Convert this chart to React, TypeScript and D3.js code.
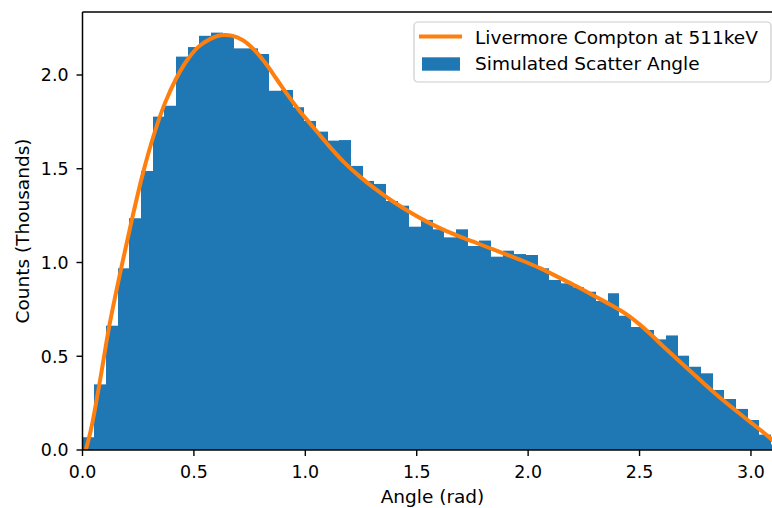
import React from 'react';
import * as d3 from 'd3';

// Histogram counts (thousands), 60 equal bins over [0, π]
const binCounts: number[] = [
  0.068, 0.350, 0.663, 0.969, 1.236, 1.488, 1.778, 1.836, 2.098, 2.149,
  2.209, 2.226, 2.210, 2.142, 2.142, 2.112, 1.916, 1.920, 1.828, 1.755,
  1.698, 1.650, 1.653, 1.515, 1.435, 1.419, 1.328, 1.303, 1.191, 1.227,
  1.177, 1.134, 1.177, 1.088, 1.117, 1.031, 1.063, 1.045, 1.040, 0.969,
  0.907, 0.889, 0.868, 0.844, 0.795, 0.836, 0.716, 0.656, 0.640, 0.590,
  0.611, 0.503, 0.444, 0.409, 0.320, 0.272, 0.219, 0.160, 0.082, 0.030,
];

// Livermore Compton curve
const curveAngles: number[] = [
  0.015, 0.04, 0.08, 0.12, 0.17, 0.22, 0.27, 0.32, 0.37, 0.42,
  0.47, 0.52, 0.57, 0.62, 0.67, 0.72, 0.77, 0.82, 0.87, 0.92,
  0.97, 1.021, 1.096, 1.171, 1.245, 1.32, 1.395, 1.47, 1.545, 1.619,
  1.694, 1.754, 1.829, 1.904, 1.978, 2.053, 2.128, 2.203, 2.278, 2.353,
  2.40, 2.45, 2.50, 2.55, 2.60, 2.65, 2.70, 2.772, 2.846, 2.921,
  2.996, 3.071, 3.14,
];
const curveValues: number[] = [
  0.0, 0.12, 0.38, 0.66, 0.95, 1.22, 1.47, 1.68, 1.85, 1.98,
  2.08, 2.15, 2.19, 2.212, 2.21, 2.185, 2.135, 2.065, 1.98, 1.895,
  1.815, 1.742, 1.636, 1.538, 1.458, 1.387, 1.324, 1.268, 1.218, 1.175,
  1.138, 1.111, 1.076, 1.042, 1.008, 0.970, 0.926, 0.881, 0.834, 0.786,
  0.755, 0.717, 0.670, 0.617, 0.560, 0.505, 0.451, 0.373, 0.295, 0.221,
  0.150, 0.079, 0.005,
];

const xTicks: number[] = [0, 0.5, 1.0, 1.5, 2.0, 2.5, 3.0];
const yTicks: number[] = [0, 0.5, 1.0, 1.5, 2.0];

const seriesLabels = ['Livermore Compton at 511keV', 'Simulated Scatter Angle'];
const xLabel = 'Angle (rad)';
const yLabel = 'Counts (Thousands)';

const BLUE = '#1f77b4';
const ORANGE = '#ff7f0e';
const FONT = '"DejaVu Sans", sans-serif';

export default function App() {
  const W = 772, H = 508;
  const left = 82.5, right = 782.5, top = 12, bottom = 450;
  const x = d3.scaleLinear().domain([0, Math.PI]).range([left, right]);
  const y = d3.scaleLinear().domain([0, 2.336]).range([bottom, top]);
  const nb = binCounts.length;
  const bw = Math.PI / nb;

  const line = d3
    .line<number>()
    .x((_, i) => x(curveAngles[i]))
    .y((d) => y(d))
    .curve(d3.curveCatmullRom.alpha(0.5));

  return (
    <svg
      width={W}
      height={H}
      style={{ position: 'absolute', left: 0, top: 0, background: '#fff' }}
      fontFamily={FONT}
    >
      <defs>
        <clipPath id="axclip">
          <rect x={left} y={top} width={right - left} height={bottom - top} />
        </clipPath>
      </defs>
      <rect x={0} y={0} width={W} height={H} fill="#fff" />
      <g clipPath="url(#axclip)">
        {binCounts.map((c, i) => {
          const x0 = Math.round(x(i * bw));
          const x1 = Math.round(x((i + 1) * bw));
          return (
            <rect
              key={i}
              x={x0}
              y={y(c)}
              width={x1 - x0}
              height={y(0) - y(c)}
              fill={BLUE}
            />
          );
        })}
        <path d={line(curveValues) || ''} fill="none" stroke={ORANGE} strokeWidth={4} strokeLinejoin="round" />
      </g>
      {/* spines */}
      <g stroke="#000" strokeWidth={1.5} fill="none">
        <line x1={left} y1={top} x2={left} y2={bottom} />
        <line x1={left} y1={bottom} x2={right} y2={bottom} />
        <line x1={left} y1={top} x2={right} y2={top} />
        <line x1={right} y1={top} x2={right} y2={bottom} />
      </g>
      {/* x ticks */}
      {xTicks.map((t) => (
        <g key={'x' + t}>
          <line x1={x(t)} x2={x(t)} y1={bottom} y2={bottom + 6} stroke="#000" strokeWidth={1.4} />
          <text x={x(t)} y={477.6} textAnchor="middle" fontSize={17.4} fill="#000">
            {t.toFixed(1)}
          </text>
        </g>
      ))}
      {/* y ticks */}
      {yTicks.map((t) => (
        <g key={'y' + t}>
          <line x1={left - 6} x2={left} y1={y(t)} y2={y(t)} stroke="#000" strokeWidth={1.4} />
          <text x={68.5} y={y(t) + 6.3} textAnchor="end" fontSize={17.4} fill="#000">
            {t.toFixed(1)}
          </text>
        </g>
      ))}
      <text x={(left + right) / 2} y={503} textAnchor="middle" fontSize={18.5} fill="#000">
        {xLabel}
      </text>
      <text
        transform={`translate(29, ${(top + bottom) / 2}) rotate(-90)`}
        textAnchor="middle"
        fontSize={18.5}
        fill="#000"
      >
        {yLabel}
      </text>
      {/* legend */}
      <g>
        <rect x={414} y={22} width={357} height={60} rx={4} fill="#fff" fillOpacity={0.8} stroke="#cccccc" strokeWidth={1.2} />
        <line x1={419} x2={462} y1={36.5} y2={36.5} stroke={ORANGE} strokeWidth={4} />
        <rect x={422} y={57.3} width={38} height={13.4} fill={BLUE} />
        <text x={475} y={43.5} fontSize={18.5} fill="#000">{seriesLabels[0]}</text>
        <text x={475} y={70} fontSize={18.5} fill="#000">{seriesLabels[1]}</text>
      </g>
    </svg>
  );
}
